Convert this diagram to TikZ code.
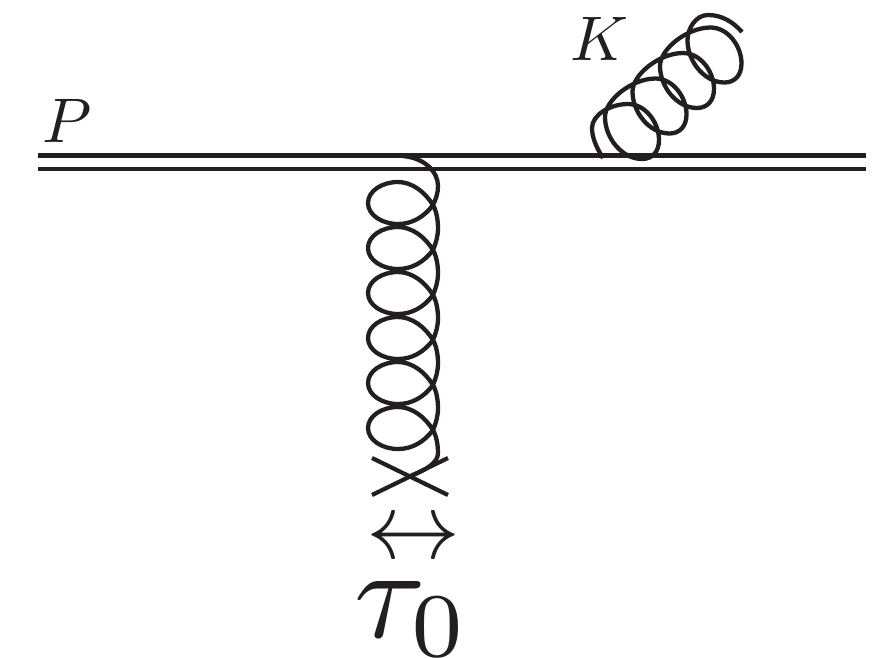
\documentclass[tikz,border=0pt]{standalone}
\definecolor{ink}{HTML}{231F20}
\tikzset{
  line/.style={draw=ink,line width=4.4pt},
  gluon/.style={draw=ink,line width=4.3pt,line join=round},
  cross/.style={draw=ink,line width=4.2pt},
  lab/.style={text=ink,inner sep=0pt,outer sep=0pt}
}
\begin{document}
\begin{tikzpicture}[x=1pt,y=-1pt]
\useasboundingbox (0,0) rectangle (892,657);
% double line
\coordinate (la) at (38,155.5); \coordinate (lb) at (866,155.5);
\coordinate (lc) at (38,169); \coordinate (ld) at (866,169);
\draw[line] (la) -- (lb);
\draw[line] (lc) -- (ld);
% cross
\coordinate (xa) at (372,458); \coordinate (xb) at (448,495);
\coordinate (xc) at (372,495); \coordinate (xd) at (448,458);
\draw[cross] (xa) -- (xb);
\draw[cross] (xc) -- (xd);
% vertical gluon
\coordinate (xm) at (408,477);
\draw[gluon] (403,156) .. controls (425,158) and (438,172) .. (438,186)
  .. controls (438,193) and (436,199) .. (433,205)
  \foreach \k in {0,...,5} { 
  .. controls (424,217+45*\k) and (412,224+45*\k) .. (398,224+45*\k)
  .. controls (382,224+45*\k) and (368,215+45*\k) .. (368,203+45*\k)
  .. controls (368,191+45*\k) and (382,182+45*\k) .. (398,182+45*\k)
  .. controls (412,182+45*\k) and (425,192+45*\k) .. (433,205+45*\k)
  .. controls (436,210+45*\k) and (438,219+45*\k) .. (438,228+45*\k)
  \ifnum\k<5 .. controls (438,236+45*\k) and (436,243+45*\k) .. (433,250+45*\k)\fi
  }
  .. controls (438,463) and (426,470) .. (xm);
% radiated gluon
\draw[gluon] (603,158) .. controls (596,147) and (592,137) .. (592,128)
  .. controls (592,115) and (610,104) .. (628,104)
  \foreach \k in {0,...,3} {
  .. controls (645+27.5*\k,104-25.5*\k) and (659+27.5*\k,122-25.5*\k) .. (659+27.5*\k,140-25.5*\k)
  .. controls (659+27.5*\k,152-25.5*\k) and (652+27.5*\k,159-25.5*\k) .. (642+27.5*\k,159-25.5*\k)
  .. controls (622+27.5*\k,159-25.5*\k) and (605+27.5*\k,138-25.5*\k) .. (605+27.5*\k,117-25.5*\k)
  \ifnum\k<3 .. controls (605+27.5*\k,100-25.5*\k) and (632+27.5*\k,78.5-25.5*\k) .. (655.5+27.5*\k,78.5-25.5*\k)\fi
  }
  .. controls (687.5,28) and (696,15) .. (708,15)
  .. controls (722,15) and (733,22) .. (742,32);
% labels
\node[lab,scale=6.3] (p) at (67,121) {$P$};
\node[lab,scale=6.3] (k) at (600,39) {$K$};
\node[lab,scale=9.4] (arrow) at (413,541) {$\leftrightarrow$};
\node[lab,scale=13] (tau) at (412,619) {$\tau_0$};
\end{tikzpicture}
\end{document}
